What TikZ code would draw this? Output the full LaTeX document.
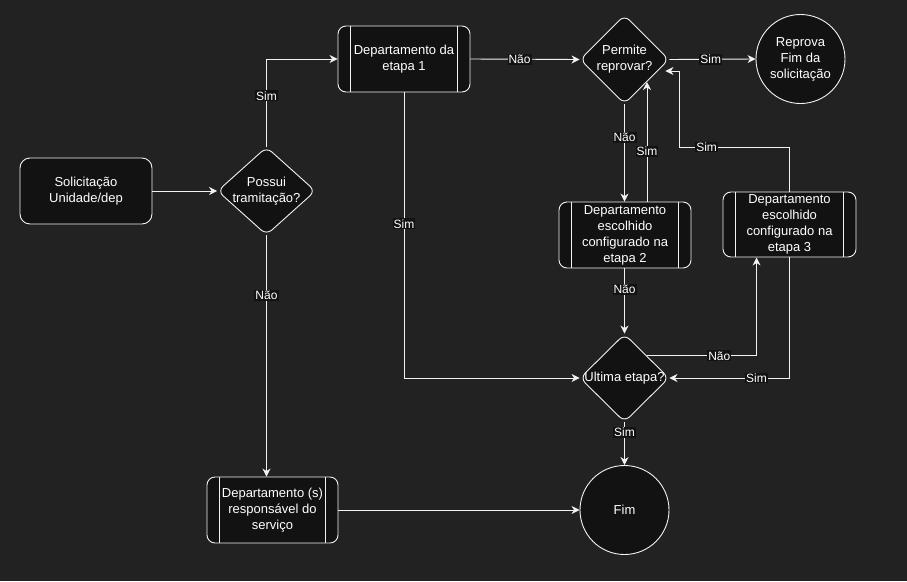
\documentclass[tikz,border=0pt]{standalone}
\usepackage{fontspec}
\setmainfont{Liberation Sans}
\usetikzlibrary{shapes.geometric,arrows.meta,calc}
\definecolor{bgc}{HTML}{222222}
\definecolor{nodefill}{HTML}{121212}
\definecolor{linec}{HTML}{F2F2F2}
\tikzset{
  base/.style={draw=linec, fill=nodefill, text=white, line width=0.9pt, inner sep=0pt,
    align=center, font=\fontsize{13}{16}\selectfont},
  proc/.style={base, rectangle, rounded corners=8pt, minimum width=132pt, minimum height=66pt},
  term/.style={base, rectangle, rounded corners=10pt, minimum width=132pt, minimum height=66pt},
  dia/.style={base, diamond, rounded corners=7pt, minimum width=89pt, minimum height=89pt},
  circ/.style={base, circle, minimum size=89pt},
  txt/.style={text=white, align=center, inner sep=0pt, font=\fontsize{13}{16}\selectfont},
  arr/.style={draw=linec, line width=0.9pt, -{Stealth[length=8pt,width=8pt,inset=2.5pt]}},
  lbl/.style={fill=nodefill, text=white, inner sep=1pt, font=\fontsize{12}{13}\selectfont},
  inl/.style={draw=linec, line width=0.8pt}
}
\begin{document}
\begin{tikzpicture}[x=1pt,y=-1pt]
\useasboundingbox (0,0) rectangle (907,581);
\fill[bgc] (0,0) rectangle (907,581);

% nodes
\node[term] (sol) at (86,191) {Solicitação\\Unidade/dep};
\node[dia, minimum width=98pt, minimum height=88pt] (possui) at (266.5,191) {};
\node[txt] (possuit) at (possui.center) {Possui\\tramitação?};
\node[proc] (dep1) at (404,59) {Departamento da\\etapa 1};
\node[dia] (permite) at (624.5,59.5) {};
\node[txt] (permitet) at (permite.center) {Permite\\reprovar?};
\node[circ] (reprova) at (800.5,59) {Reprova\\Fim da\\solicitação};
\node[proc] (dep2) at (625,235) {Departamento\\escolhido\\configurado na\\etapa 2};
\node[proc, minimum height=65pt, minimum width=133pt] (dep3) at (789.5,224.5) {Departamento\\escolhido\\configurado na\\etapa 3};
\node[dia, minimum height=88pt] (ultima) at (624.5,378) {};
\node[txt] (ultimat) at (ultima.center) {Ultima etapa?};
\node[circ] (fim) at (624.5,510) {Fim};
\node[proc, minimum width=131pt] (deps) at (272.5,510) {Departamento (s)\\responsável do\\serviço};

% inner lines of process boxes
\foreach \n in {dep1,dep2,dep3,deps}{
  \draw[inl] ([xshift=13pt]\n.north west) -- ([xshift=13pt]\n.south west);
  \draw[inl] ([xshift=-13pt]\n.north east) -- ([xshift=-13pt]\n.south east);
}

% helper coordinates
\coordinate (pe) at ($(permite.south)!0.5!(permite.east)$);
\coordinate (p3) at ([xshift=-4pt,yshift=-11.5pt]permite.east);
\coordinate (c3) at (679,147);
\coordinate (ue) at ($(ultima.north)!0.5!(ultima.east)$);
\coordinate (d3in) at ([xshift=34pt]dep3.south west);

% connectors
\draw[arr] (sol) -- (possui.west);
\draw[arr] (possui.north) -- node[lbl, pos=0.58] {Sim} (possui.north |- dep1.west) -- (dep1.west);
\draw[arr] (dep1.east) -- node[lbl, pos=0.45] {Não} (permite.west);
\draw[arr] (permite.east) -- node[lbl, pos=0.48] {Sim} (reprova.west);
\draw[arr] (permite.south) -- node[lbl, pos=0.34] {Não} (permite.south |- dep2.north);
\draw[arr] (dep2.north -| pe) -- node[lbl, pos=0.42] {Sim} (pe);
\draw[arr] (dep3.north) -- (dep3.north |- c3) -- node[lbl, pos=0.75] {Sim} (c3) -- (c3 |- p3) -- (p3);
\draw[arr] (dep2.south -| ultima.north) -- node[lbl, pos=0.32] {Não} (ultima.north);
\draw[arr] (dep1.south) -- node[lbl, pos=0.46] {Sim} (dep1.south |- ultima.west) -- (ultima.west);
\draw[arr] (ue) -- node[lbl, pos=0.66] {Não} (ue -| d3in) -- (d3in);
\draw[arr] (dep3.south) -- (dep3.south |- ultima.east) -- node[lbl, pos=0.275] {Sim} (ultima.east);
\draw[arr] (ultima.south) -- node[lbl, pos=0.23] {Sim} (fim.north);
\draw[arr] (possui.south) -- node[lbl, pos=0.25] {Não} (possui.south |- deps.north);
\draw[arr] (deps.east) -- (fim.west);
\end{tikzpicture}
\end{document}
